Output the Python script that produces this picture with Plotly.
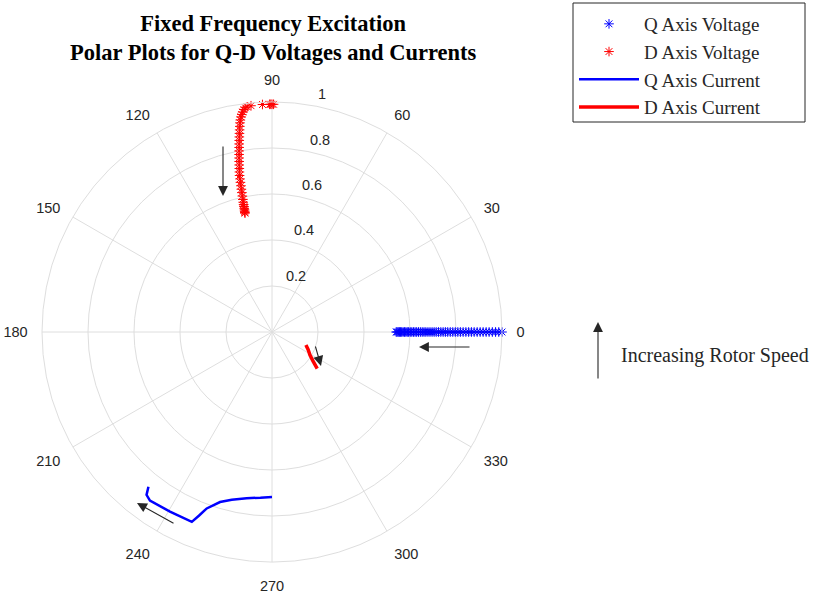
import math
import plotly.graph_objects as go

# Q axis voltage (angle 0 deg, magnitude decreasing with speed)
qv_r = [1.00, 0.986, 0.972, 0.958, 0.944, 0.931, 0.918, 0.905, 0.892, 0.879, 0.867, 0.855,
        0.843, 0.831, 0.819, 0.808, 0.797, 0.786, 0.775, 0.764, 0.754, 0.744, 0.734, 0.724,
        0.714, 0.705, 0.696, 0.687, 0.678, 0.669, 0.661, 0.653, 0.645, 0.637, 0.629, 0.622,
        0.615, 0.608, 0.601, 0.594, 0.588, 0.582, 0.576, 0.570, 0.564, 0.559, 0.554, 0.549,
        0.544, 0.54]
qv_theta = [0.0] * len(qv_r)

# D axis voltage
dv_r = [0.99, 0.99, 0.99, 0.99, 0.99, 0.988, 0.985, 0.982, 0.975, 0.965, 0.955, 0.945,
        0.932, 0.92, 0.905, 0.89, 0.875, 0.86, 0.845, 0.83, 0.815, 0.80, 0.785, 0.77,
        0.755, 0.74, 0.725, 0.71, 0.695, 0.68, 0.665, 0.65, 0.635, 0.62, 0.605, 0.59,
        0.578, 0.568, 0.559, 0.551, 0.544, 0.538, 0.533, 0.53]
dv_theta = [89.6, 90.0, 90.3, 90.6, 92.4, 95.3, 96.3, 96.8, 97.2, 97.6, 97.9, 98.2,
            98.5, 98.7, 98.9, 99.1, 99.3, 99.5, 99.7, 99.9, 100.1, 100.3, 100.5, 100.7,
            100.9, 101.1, 101.3, 101.5, 101.7, 101.8, 101.9, 102.0, 102.1, 102.2, 102.3, 102.4,
            102.5, 102.55, 102.6, 102.65, 102.7, 102.75, 102.8, 102.8]

# Q axis current
qi_r = [0.717, 0.722, 0.731, 0.75, 0.773, 0.818, 0.86, 0.896, 0.898, 0.905, 0.894, 0.861]
qi_theta = [270.0, 266.0, 261.3, 256.5, 253.0, 249.7, 248.3, 247.1, 240.4, 234.1, 232.4, 231.4]

# D axis current
di_r = [0.158, 0.175, 0.193, 0.22, 0.253]
di_theta = [339.0, 334.0, 328.8, 324.5, 321.0]

angle_ticks = [0, 30, 60, 90, 120, 150, 180, 210, 240, 270, 300, 330]
radial_ticks = [0.2, 0.4, 0.6, 0.8, 1.0]
radial_labels = ["0.2", "0.4", "0.6", "0.8", "1"]
r_label_angle = 80

W, H = 815, 593
serif = "Liberation Serif, Times New Roman, serif"
sans = "Liberation Sans, Arial, sans-serif"

fig = go.Figure()
fig.add_trace(go.Scatterpolar(r=qv_r, theta=qv_theta, mode="markers", name="Q Axis Voltage",
                              marker=dict(symbol="asterisk-open", size=8, color="#0000ff",
                                          line=dict(color="#0000ff", width=1))))
fig.add_trace(go.Scatterpolar(r=dv_r, theta=dv_theta, mode="markers", name="D Axis Voltage",
                              marker=dict(symbol="asterisk-open", size=8, color="#ff0000",
                                          line=dict(color="#ff0000", width=1))))
fig.add_trace(go.Scatterpolar(r=qi_r, theta=qi_theta, mode="lines", name="Q Axis Current",
                              line=dict(color="#0000ff", width=2.5)))
fig.add_trace(go.Scatterpolar(r=di_r, theta=di_theta, mode="lines", name="D Axis Current",
                              line=dict(color="#ff0000", width=3.5)))

cx, cy, R = 272, 332, 230

def px(x):
    return x / W

def py(y):
    return 1 - y / H

arrows = [  # (tip_x, tip_y, tail_x, tail_y) in pixels
    (223, 196, 223, 145),
    (419, 347, 471, 347),
    (321, 366, 315, 345),
    (137, 503, 175, 524),
    (598, 322, 598, 380),
]
annotations = []
for tx, ty, sx, sy in arrows:
    annotations.append(dict(x=px(tx), y=py(ty), xref="paper", yref="paper",
                            ax=sx - tx, ay=sy - ty, axref="pixel", ayref="pixel",
                            showarrow=True, arrowhead=2, arrowsize=1.8, arrowwidth=1.1,
                            arrowcolor="#262626", text=""))
annotations.append(dict(x=px(619), y=py(355), xref="paper", yref="paper", showarrow=False,
                        xanchor="left", yanchor="middle", text="Increasing Rotor Speed",
                        font=dict(family=serif, size=20, color="#262626")))
annotations.append(dict(x=px(273), y=py(38), xref="paper", yref="paper", showarrow=False,
                        xanchor="center", yanchor="middle",
                        text="<b>Fixed Frequency Excitation<br>Polar Plots for Q-D Voltages and Currents</b>",
                        font=dict(family=serif, size=22.5, color="black")))
# radial tick labels, placed MATLAB-style beside the 80 degree ray
a = math.radians(r_label_angle)
for rv, rt in zip(radial_ticks, radial_labels):
    lx = cx + rv * R * math.cos(a) + 4
    ly = cy - rv * R * math.sin(a) - 11
    annotations.append(dict(x=px(lx), y=py(ly), xref="paper", yref="paper", showarrow=False,
                            xanchor="left", yanchor="middle", text=rt,
                            font=dict(family=sans, size=14.5, color="#262626")))

shapes = [dict(type="rect", xref="paper", yref="paper", layer="below",
               x0=px(573), x1=px(805), y0=py(122), y1=py(3),
               line=dict(color="#262626", width=1), fillcolor="white")]

fig.update_layout(
    width=W, height=H,
    margin=dict(l=0, r=0, t=0, b=0),
    paper_bgcolor="white",
    polar=dict(
        domain=dict(x=[px(cx - R), px(cx + R)], y=[py(cy + R), py(cy - R)]),
        bgcolor="white",
        angularaxis=dict(direction="counterclockwise", rotation=0,
                         tickmode="array", tickvals=angle_ticks,
                         ticktext=[str(v) for v in angle_ticks],
                         showgrid=True, gridcolor="#dedede", gridwidth=1,
                         linecolor="#dedede", linewidth=1,
                         ticks="outside", ticklen=11, tickcolor="rgba(0,0,0,0)",
                         tickfont=dict(family=sans, size=14.5, color="#262626")),
        radialaxis=dict(range=[0, 1], angle=r_label_angle,
                        tickmode="array", tickvals=radial_ticks, ticktext=radial_labels,
                        showticklabels=False,
                        showgrid=True, gridcolor="#dedede", gridwidth=1,
                        showline=False, ticks=""),
    ),
    legend=dict(x=px(574), y=py(5), xanchor="left", yanchor="top",
                bgcolor="rgba(0,0,0,0)", borderwidth=0,
                font=dict(family=serif, size=19, color="#262626"),
                itemwidth=60, tracegroupgap=0),
    annotations=annotations,
    shapes=shapes,
    showlegend=True,
)

fig.write_html("out.html", config={"displayModeBar": False},
               post_script="document.body.style.margin='0px';")
